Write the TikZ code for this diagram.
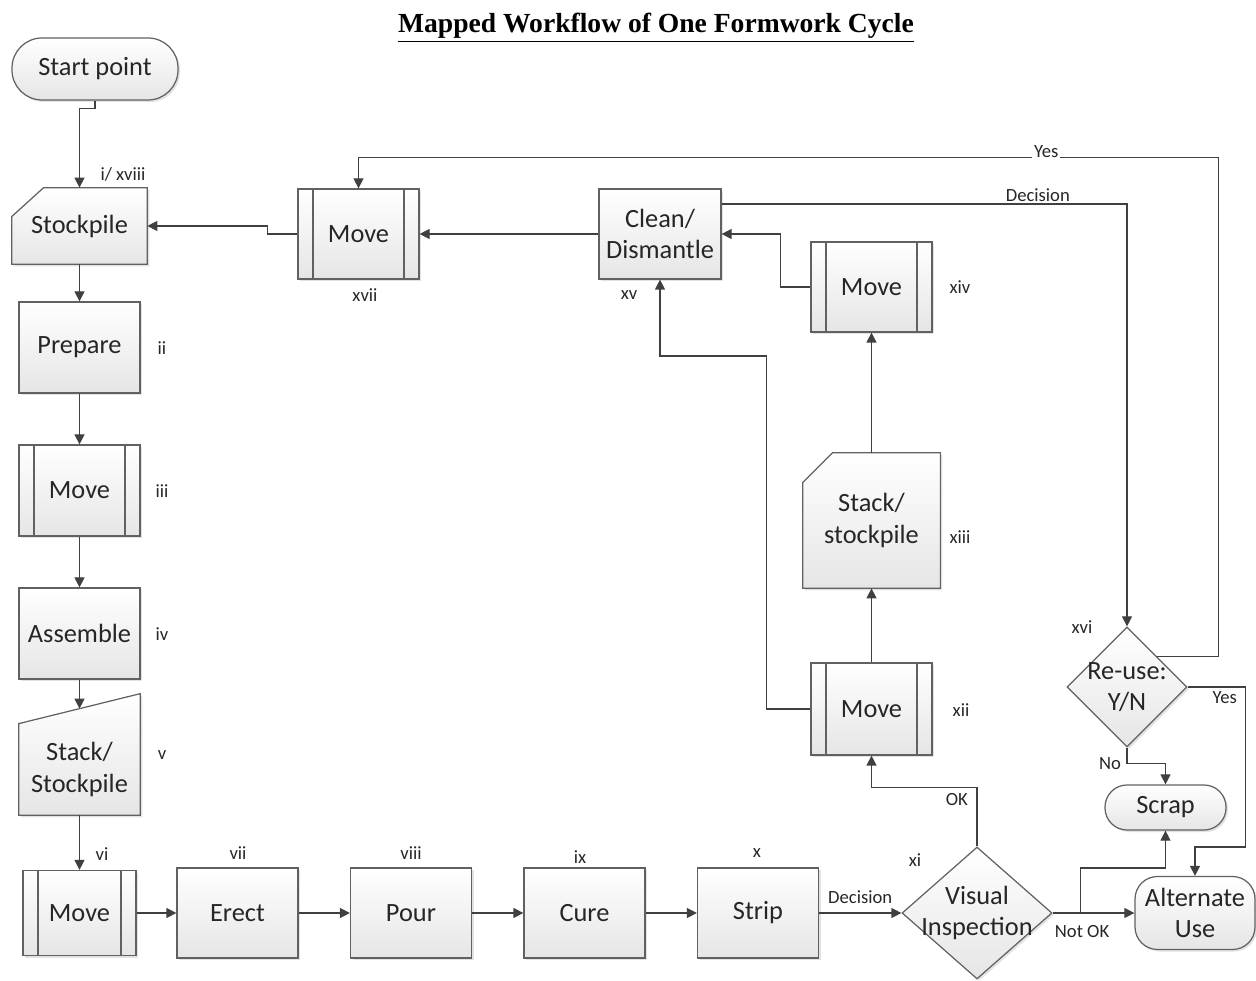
\documentclass[tikz,border=0pt]{standalone}
\usepackage{fontspec}
\setmainfont{Carlito}
\newfontfamily\titlefont{Liberation Serif}
\usetikzlibrary{arrows.meta, shadows, shapes.geometric}
\pgfdeclarelayer{bg}
\pgfsetlayers{bg,main}
\newcommand{\ztext}[1]{\makebox[0pt]{#1}}
\tikzset{
    every node/.style={font=\fontsize{15}{18}\selectfont, text=black!85, align=center},
    shade_box/.style={draw=black!62, line width=0.7pt, top color=white, bottom color=black!10,
        drop shadow={shadow xshift=0.04cm, shadow yshift=-0.04cm, fill=black!25, opacity=0.45}},
    process/.style={shade_box, rectangle, minimum width=2.42cm, minimum height=1.82cm, inner sep=0pt},
    move/.style={process, path picture={
        \draw[black!62, line width=0.7pt]
          ([xshift=0.3cm]path picture bounding box.north west) -- ([xshift=0.3cm]path picture bounding box.south west)
          ([xshift=-0.3cm]path picture bounding box.north east) -- ([xshift=-0.3cm]path picture bounding box.south east);}},
    terminal/.style={shade_box, rectangle, inner sep=0pt},
    decision/.style={shade_box, diamond, inner sep=0pt},
    store/.style={rectangle, inner sep=0pt},
    lbl/.style={font=\fontsize{10.6}{12}\selectfont, inner sep=2pt},
    flow/.style={draw=black!75, line width=0.7pt, -{Triangle[length=2mm, width=2mm]}}
}

\begin{document}
\begin{tikzpicture}
  \useasboundingbox (0cm, 0cm) rectangle (25.12cm, 19.6cm);
  \node (title) [font=\titlefont\bfseries\fontsize{15.7}{18}\selectfont, text=black] at (13.12cm, 19.05cm) {\underline{Mapped Workflow of One Formwork Cycle}};

  \node (start) [terminal, rounded corners=0.6cm, minimum width=3.32cm, minimum height=1.24cm] at (1.9cm, 18.22cm) {Start point};
  \node (stock_i) [store, minimum width=2.7cm, minimum height=1.52cm] at (1.59cm, 15.08cm) {Stockpile};
  \node (prepare) [process] at (1.59cm, 12.65cm) {Prepare};
  \node (move_iii) [move] at (1.59cm, 9.79cm) {Move};
  \node (assemble) [process] at (1.59cm, 6.93cm) {Assemble};
  \node (stack_v) [store, minimum width=2.42cm, minimum height=1.82cm] at (1.59cm, 4.21cm) {Stack/\\Stockpile};
  \node (move_vi) [move, minimum width=2.26cm, minimum height=1.7cm] at (1.59cm, 1.34cm) {Move};
  \node (erect) [process, minimum height=1.8cm] at (4.75cm, 1.34cm) {Erect};
  \node (pour) [process, minimum height=1.8cm] at (8.22cm, 1.34cm) {Pour};
  \node (cure) [process, minimum height=1.8cm] at (11.69cm, 1.34cm) {Cure};
  \node (strip) [process, minimum height=1.8cm] at (15.16cm, 1.34cm) {Strip};
  \node (visual) [decision, minimum width=3cm, minimum height=2.64cm] at (19.54cm, 1.34cm) {\ztext{Visual}\\\ztext{Inspection}};
  \node (alt_use) [terminal, rounded corners=0.45cm, minimum width=2.4cm, minimum height=1.46cm] at (23.9cm, 1.34cm) {Alternate\\Use};
  \node (scrap) [terminal, rounded corners=0.44cm, minimum width=2.42cm, minimum height=0.9cm] at (23.31cm, 3.45cm) {Scrap};
  \node (reuse) [decision, minimum width=2.4cm, minimum height=2.4cm] at (22.54cm, 5.86cm) {\ztext{Re-use:}\\\ztext{Y/N}};
  \node (move_xii) [move, minimum height=1.84cm] at (17.43cm, 5.42cm) {Move};
  \node (stack_xiii) [store, minimum width=2.74cm, minimum height=2.7cm] at (17.43cm, 9.19cm) {Stack/\\stockpile};
  \node (move_xiv) [move, minimum height=1.8cm] at (17.43cm, 13.86cm) {Move};
  \node (clean) [process, minimum width=2.44cm, minimum height=1.8cm] at (13.2cm, 14.92cm) {Clean/\\Dismantle};
  \node (move_xvii) [move, minimum height=1.8cm] at (7.17cm, 14.92cm) {Move};

  \begin{pgfonlayer}{bg}
    \path[shade_box] (stock_i.south west) -- (stock_i.south east) -- (stock_i.north east)
      -- ([xshift=0.64cm]stock_i.north west) -- ([yshift=-0.58cm]stock_i.north west) -- cycle;
    \path[shade_box] (stack_xiii.south west) -- (stack_xiii.south east) -- (stack_xiii.north east)
      -- ([xshift=0.6cm]stack_xiii.north west) -- ([yshift=-0.6cm]stack_xiii.north west) -- cycle;
    \path[shade_box] (stack_v.south west) -- (stack_v.south east) -- ([yshift=0.6cm]stack_v.north east)
      -- (stack_v.north west) -- cycle;
  \end{pgfonlayer}

  \node (n_i) [lbl] at (2.46cm, 16.12cm) {i/ xviii};
  \node (n_ii) [lbl] at (3.24cm, 12.64cm) {ii};
  \node (n_iii) [lbl] at (3.24cm, 9.78cm) {iii};
  \node (n_iv) [lbl] at (3.24cm, 6.92cm) {iv};
  \node (n_v) [lbl] at (3.24cm, 4.5cm) {v};
  \node (n_vi) [lbl] at (2.04cm, 2.52cm) {vi};
  \node (n_vii) [lbl] at (4.76cm, 2.54cm) {vii};
  \node (n_viii) [lbl] at (8.22cm, 2.54cm) {viii};
  \node (n_ix) [lbl] at (11.6cm, 2.46cm) {ix};
  \node (n_x) [lbl] at (15.14cm, 2.54cm) {x};
  \node (n_xi) [lbl] at (18.3cm, 2.4cm) {xi};
  \node (n_xii) [lbl] at (19.22cm, 5.4cm) {xii};
  \node (n_xiii) [lbl] at (19.2cm, 8.86cm) {xiii};
  \node (n_xiv) [lbl] at (19.2cm, 13.86cm) {xiv};
  \node (n_xv) [lbl] at (12.58cm, 13.7cm) {xv};
  \node (n_xvi) [lbl] at (21.64cm, 7.06cm) {xvi};
  \node (n_xvii) [lbl] at (7.3cm, 13.7cm) {xvii};

  \draw[flow] (start.south) -- ++(0cm, -0.16cm) -| (stock_i.north);
  \draw[flow] (stock_i) -- (prepare);
  \draw[flow] (prepare) -- (move_iii);
  \draw[flow] (move_iii) -- (assemble);
  \draw[flow] (assemble.south) -- ([yshift=0.3cm]stack_v.north);
  \draw[flow] (stack_v) -- (move_vi);
  \draw[flow] (move_vi) -- (erect);
  \draw[flow] (erect) -- (pour);
  \draw[flow] (pour) -- (cure);
  \draw[flow] (cure) -- (strip);
  \draw[flow] (strip) -- node[lbl, above, yshift=0.1cm] {Decision} (visual);
  \draw[flow] (visual.north) -- ++(0cm, 1.18cm) node[lbl, pos=0.8, left, xshift=-0.1cm] {OK} -| (move_xii.south);
  \draw[flow] (move_xii) -- (stack_xiii);
  \draw[flow] (stack_xiii) -- (move_xiv);
  \draw[flow] (move_xii.west) -- ++(-0.88cm, 0cm) -- ++(0cm, 7.06cm) -| (clean.south);
  \draw[flow] (move_xiv.west) -- ++(-0.6cm, 0cm) |- (clean.east);
  \draw[flow] (clean) -- (move_xvii);
  \draw[flow] (move_xvii.west) -- ++(-0.6cm, 0cm) |- (stock_i.east);
  \draw[flow] ([yshift=0.6cm]clean.east) -| node[lbl, pos=0.39, above, inner sep=1pt] {Decision} (reuse.north);
  \draw[flow] (reuse.north east) -- ++(1.22cm, 0cm) -- ++(0cm, 9.98cm)
    -| node[lbl, pos=0.1, fill=white, yshift=0.12cm, inner sep=1pt] {Yes} (move_xvii.north);
  \draw[flow] (reuse.east) -- node[lbl, pos=0.64, below] {Yes} ++(1.16cm, 0cm) -- ++(0cm, -3.2cm) -| (alt_use.north);
  \draw[flow] (reuse.south) -- ++(0cm, -0.32cm) node[lbl, pos=1, left, xshift=-0.04cm] {No} -| (scrap.north);
  \draw[flow] (visual.east) -- node[lbl, pos=0.36, below, yshift=-0.16cm] {Not OK} (alt_use.west);
  \coordinate (not_ok) at ([xshift=0.56cm]visual.east);
  \draw[flow] (not_ok) -- ++(0cm, 0.9cm) -| (scrap.south);
\end{tikzpicture}
\end{document}
